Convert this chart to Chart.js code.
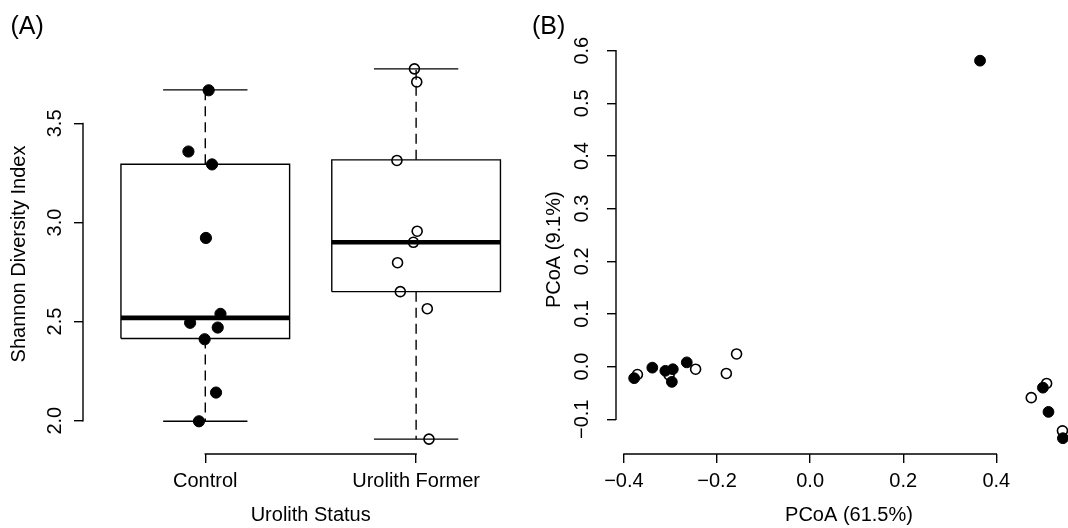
<!DOCTYPE html>
<html>
<head>
<meta charset="utf-8">
<script src="https://cdn.jsdelivr.net/npm/chart.js@4/dist/chart.umd.min.js"></script>
<style>
  html, body { margin: 0; padding: 0; background: #fff; overflow: hidden; }
  #panelA { position: absolute; left: 0; top: 0; }
  #wrapB { position: absolute; left: 533px; top: 0; width: 535px; height: 528px; overflow: hidden; }
</style>
</head>
<body>
<canvas id="panelA" width="545" height="528"></canvas>
<div id="wrapB"><canvas id="panelB" width="560" height="528"></canvas></div>
<script>
// (A) Shannon diversity by urolith status
const groups = ["Control", "Urolith Former"];
const controlShannon = [3.667, 3.358, 3.293, 2.922, 2.539, 2.494, 2.470, 2.411, 2.142, 1.997];
const controlJitter  = [0.016, -0.080, 0.032, 0.003, 0.072, -0.072, 0.059, -0.003, 0.051, -0.030];
const formerShannon  = [3.775, 3.709, 3.313, 2.956, 2.900, 2.797, 2.651, 2.565, 1.907];
const formerJitter   = [-0.008, 0.003, -0.091, 0.005, -0.013, -0.088, -0.075, 0.053, 0.061];
// lower whisker, lower hinge, median, upper hinge, upper whisker
const controlBox = [1.997, 2.415, 2.519, 3.294, 3.669];
const formerBox  = [1.907, 2.651, 2.900, 3.316, 3.775];
const shannonTicks = [2.0, 2.5, 3.0, 3.5];

// (B) PCoA
const pcoaControlX = [-0.378, -0.339, -0.311, -0.295, -0.297, -0.265, 0.365, 0.500, 0.512, 0.543];
const pcoaControlY = [-0.022, -0.002, -0.008, -0.005, -0.029, 0.008, 0.581, -0.040, -0.086, -0.136];
const pcoaFormerX  = [-0.371, -0.303, -0.246, -0.180, -0.158, 0.475, 0.508, 0.542];
const pcoaFormerY  = [-0.015, -0.016, -0.005, -0.013, 0.024, -0.059, -0.032, -0.122];
const pcoaXTicks = [-0.4, -0.2, 0.0, 0.2, 0.4];
const pcoaYTicks = [-0.1, 0.0, 0.1, 0.2, 0.3, 0.4, 0.5, 0.6];

const FONT = "'Liberation Sans', Arial, Helvetica, sans-serif";
Chart.defaults.font.family = FONT;
Chart.defaults.font.size = 20;
Chart.defaults.color = '#000';

// R-like axes: spine only between first and last tick, plus panel letter
const rAxes = {
  id: 'rAxes',
  afterDraw(chart, args, opts) {
    const ctx = chart.ctx;
    const {left, bottom} = chart.chartArea;
    const xs = chart.scales.x, ys = chart.scales.y;
    const xt = xs.ticks, yt = ys.ticks;
    ctx.save();
    ctx.strokeStyle = '#000';
    ctx.lineWidth = 1.4;
    ctx.lineCap = 'square';
    ctx.beginPath();
    ctx.moveTo(xs.getPixelForValue(xt[0].value), bottom);
    ctx.lineTo(xs.getPixelForValue(xt[xt.length - 1].value), bottom);
    ctx.moveTo(left, ys.getPixelForValue(yt[0].value));
    ctx.lineTo(left, ys.getPixelForValue(yt[yt.length - 1].value));
    ctx.stroke();
    ctx.fillStyle = '#000';
    ctx.font = '25px ' + FONT;
    ctx.textBaseline = 'middle';
    ctx.fillText(opts.label, opts.x, opts.y);
    ctx.restore();
  }
};

function fmt(v) {
  return (v < 0 ? '\u2212' : '') + Math.abs(v).toFixed(1);
}

function axis(min, max, ticks, label, title, isY, titlePad) {
  const s = {
    type: 'linear',
    min: min, max: max,
    afterBuildTicks: sc => { sc.ticks = ticks.map(v => ({value: v})); },
    afterFit: sc => { if (isY) sc.width = 83; else sc.height = 74; },
    border: {display: false},
    grid: {drawOnChartArea: false, drawTicks: true, tickLength: 9, color: '#000', lineWidth: 1.4},
    ticks: {autoSkip: false, color: '#000', font: {size: 20}, callback: label, padding: 6},
    title: {display: true, text: title, color: '#000', font: {size: 20}, padding: titlePad}
  };
  if (isY) {
    s.ticks.minRotation = 90;
    s.ticks.maxRotation = 90;
    s.ticks.crossAlign = 'center';
    s.ticks.padding = 5;
  } else {
    s.ticks.maxRotation = 0;
  }
  return s;
}

function seg(pts, extra) {
  return Object.assign({
    data: pts, showLine: true, pointRadius: 0, borderColor: '#000',
    borderWidth: 1.4, fill: false
  }, extra || {});
}

function boxParts(pos, b) {
  const [lo, q1, med, q3, hi] = b;
  const w = 0.4, st = 0.2;
  return [
    seg([{x: pos - w, y: med}, {x: pos + w, y: med}], {borderWidth: 4.6, borderCapStyle: 'butt'}),
    seg([{x: pos - w, y: q1}, {x: pos + w, y: q1}, {x: pos + w, y: q3}, {x: pos - w, y: q3}, {x: pos - w, y: q1}], {borderJoinStyle: 'miter'}),
    seg([{x: pos, y: q3}, {x: pos, y: hi}], {borderDash: [10, 6]}),
    seg([{x: pos, y: q1}, {x: pos, y: lo}], {borderDash: [10, 6]}),
    seg([{x: pos - st, y: hi}, {x: pos + st, y: hi}]),
    seg([{x: pos - st, y: lo}, {x: pos + st, y: lo}])
  ];
}

const common = {
  responsive: false,
  animation: false,
  events: [],
  plugins: {legend: {display: false}, tooltip: {enabled: false}}
};

// first dataset is drawn on top
new Chart(document.getElementById('panelA'), {
  type: 'scatter',
  data: {
    datasets: [
      {data: controlShannon.map((v, i) => ({x: 1 + controlJitter[i], y: v})),
       pointRadius: 5.6, borderWidth: 1, backgroundColor: '#000', borderColor: '#000'},
      {data: formerShannon.map((v, i) => ({x: 2 + formerJitter[i], y: v})),
       pointRadius: 5, borderWidth: 1.6, backgroundColor: 'rgba(0,0,0,0)', borderColor: '#000'}
    ].concat(boxParts(1, controlBox), boxParts(2, formerBox))
  },
  options: Object.assign({}, common, {
    layout: {padding: {left: 0, top: 54, right: 4.8, bottom: 0}},
    plugins: Object.assign({}, common.plugins, {rAxes: {label: '(A)', x: 10.5, y: 27}}),
    scales: {
      x: axis(0.42, 2.58, [1, 2], v => groups[Math.round(v) - 1], 'Urolith Status', false, {top: 0, bottom: 1}),
      y: axis(1.832, 3.850, shannonTicks, v => v.toFixed(1), 'Shannon Diversity Index', true, {top: 7.6, bottom: 0})
    }
  }),
  plugins: [rAxes]
});

new Chart(document.getElementById('panelB'), {
  type: 'scatter',
  data: {
    datasets: [
      {data: pcoaControlX.map((v, i) => ({x: v, y: pcoaControlY[i]})),
       pointRadius: 5.4, borderWidth: 1, backgroundColor: '#000', borderColor: '#000'},
      {data: pcoaFormerX.map((v, i) => ({x: v, y: pcoaFormerY[i]})),
       pointRadius: 5, borderWidth: 1.6, backgroundColor: 'rgba(0,0,0,0)', borderColor: '#000'}
    ]
  },
  options: Object.assign({}, common, {
    layout: {padding: {left: 0, top: 45.4, right: 11, bottom: 0}},
    plugins: Object.assign({}, common.plugins, {rAxes: {label: '(B)', x: -1, y: 27}}),
    scales: {
      x: axis(-0.417, 0.584, pcoaXTicks, fmt, 'PCoA (61.5%)', false, {top: 0, bottom: 1}),
      y: axis(-0.166, 0.610, pcoaYTicks, fmt, 'PCoA (9.1%)', true, {top: 9, bottom: 0})
    }
  }),
  plugins: [rAxes]
});
</script>
</body>
</html>
